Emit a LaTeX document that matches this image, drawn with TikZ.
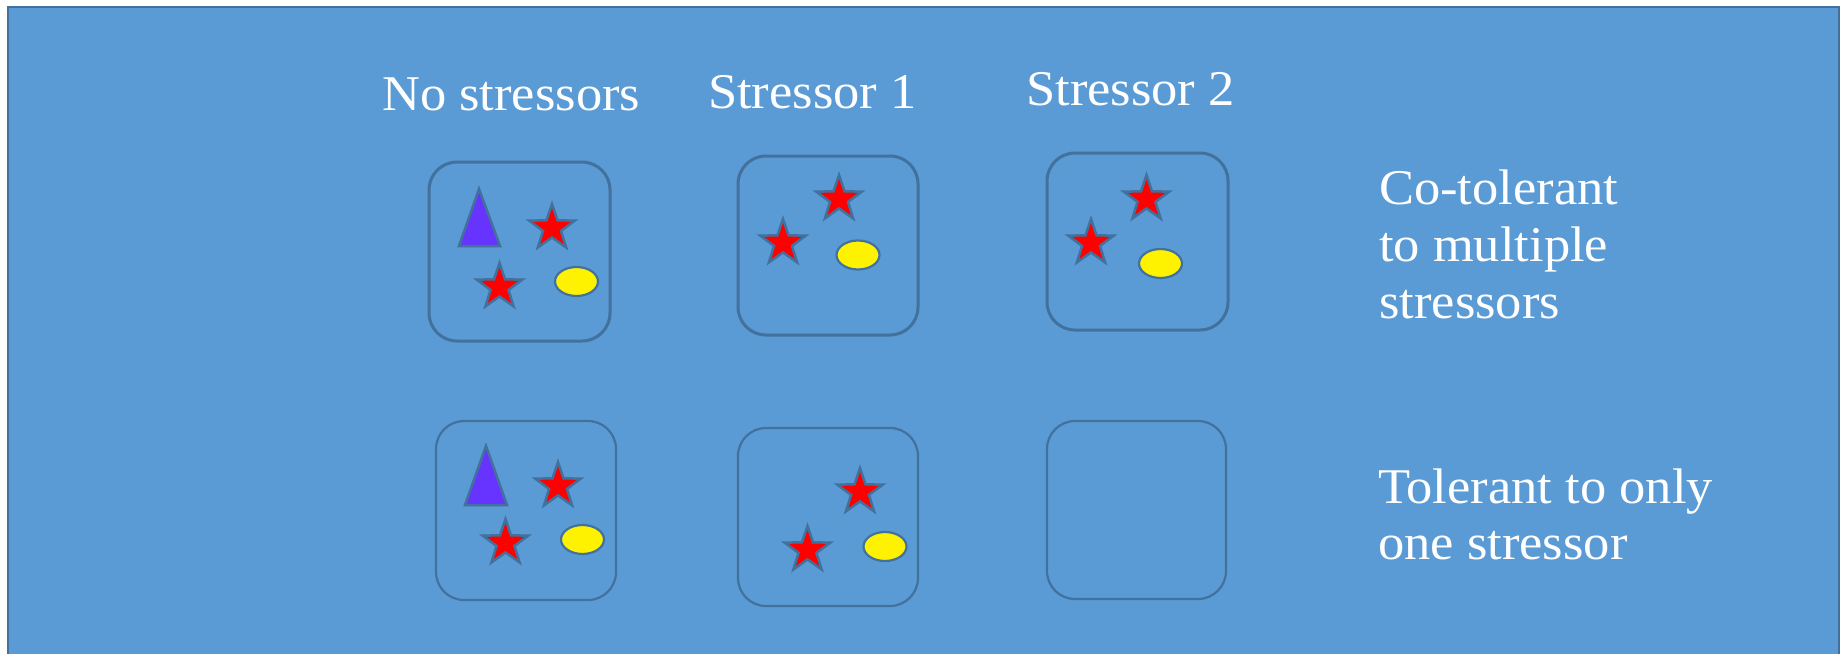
\documentclass[tikz,border=0pt]{standalone}
\usepackage{fontspec}
\setmainfont{Liberation Serif}[FakeStretch=1.05]
\usetikzlibrary{shapes.geometric}
\definecolor{bgblue}{HTML}{5B9BD5}
\definecolor{edgeblue}{HTML}{41719C}
\definecolor{tripurple}{HTML}{6633FF}
\tikzset{
  lbl/.style={text=white, font=\fontsize{50}{57}\selectfont, inner sep=0pt, anchor=base west},
  boxA/.style={draw=edgeblue, line width=3pt, rounded corners=28pt},
  boxB/.style={draw=edgeblue, line width=2.2pt, rounded corners=28pt},
  redstar/.style={star, star points=5, star point ratio=2.55, minimum size=48pt, inner sep=0pt,
                  fill=red, draw=edgeblue, line width=2.5pt},
  yellowdot/.style={ellipse, minimum width=43pt, minimum height=29pt, inner sep=0pt,
                  fill=yellow, draw=edgeblue, line width=2.2pt},
  tri/.style={fill=tripurple, draw=edgeblue, line width=2.5pt, line join=miter}
}
\begin{document}
\begin{tikzpicture}[x=1pt,y=-1pt]
\useasboundingbox (0,0) rectangle (1843,653);
\clip (0,0) rectangle (1843,653);
\fill[white] (0,0) rectangle (1843,653);
\draw[fill=bgblue, draw=edgeblue, line width=2.5pt] (8,7) rectangle (1839,700);

% column headings
\node[lbl] (h1) at (382,110) {No stressors};
\node[lbl] (h2) at (708,108) {Stressor 1};
\node[lbl] (h3) at (1026,105) {Stressor 2};

% row labels
\node[lbl] (r1a) at (1379,204) {Co-tolerant};
\node[lbl] (r1b) at (1379,261) {to multiple};
\node[lbl] (r1c) at (1379,318) {stressors};
\node[lbl] (r2a) at (1378,503) {Tolerant to only};
\node[lbl] (r2b) at (1378,559) {one stressor};

% boxes row 1
\draw[boxA] (429,162) rectangle (610,341);
\draw[boxA] (738,156) rectangle (918,335);
\draw[boxA] (1047,153) rectangle (1228,330);
% boxes row 2
\draw[boxB] (436,421) rectangle (616,600);
\draw[boxB] (738,428) rectangle (918,606);
\draw[boxB] (1047,421) rectangle (1226,599);

% box A1 contents
\draw[tri] (479,189) -- (459,246) -- (500,246) -- cycle;
\node[redstar] (sA1a) at (552,228) {};
\node[redstar] (sA1b) at (499.5,287) {};
\node[yellowdot] (eA1) at (576.5,281.5) {};

% box B1 contents
\node[redstar] (sB1a) at (839,199) {};
\node[redstar] (sB1b) at (783,243) {};
\node[yellowdot] (eB1) at (858,255) {};

% box C1 contents
\node[redstar] (sC1a) at (1146.5,199) {};
\node[redstar] (sC1b) at (1091,243) {};
\node[yellowdot] (eC1) at (1160.5,263.5) {};

% box A2 contents
\draw[tri] (486,446) -- (465,505) -- (507,505) -- cycle;
\node[redstar] (sA2a) at (558,486) {};
\node[redstar] (sA2b) at (505.5,543) {};
\node[yellowdot] (eA2) at (582.5,539.5) {};

% box B2 contents
\node[redstar] (sB2a) at (860,492) {};
\node[redstar] (sB2b) at (807.5,550) {};
\node[yellowdot] (eB2) at (885,546.5) {};
\end{tikzpicture}
\end{document}
